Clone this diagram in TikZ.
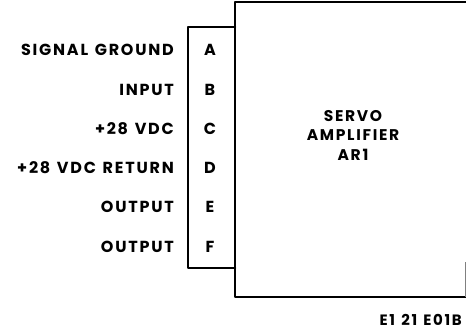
\documentclass[tikz,border=0pt]{standalone}
\usepackage{fontspec}
\setmainfont{Poppins}[LetterSpace=11,WordSpace=1.3]
\begin{document}
\begin{tikzpicture}[x=1pt,y=-1pt,
  lbl/.style={anchor=east,inner sep=0pt,font=\fontsize{16}{17}\selectfont\bfseries},
  pin/.style={inner sep=0pt,font=\fontsize{16}{17}\selectfont\bfseries},
  title/.style={inner sep=0pt,align=center,font=\fontsize{15.5}{19.5}\selectfont\bfseries},
  edge/.style={line width=2.6pt,line cap=round,line join=round}]
\useasboundingbox (0,0) rectangle (466,329);
\clip (0,0) rectangle (466,329);
% amplifier box
\coordinate (bTL) at (235,2);
\coordinate (bTR) at (468,2);
\coordinate (bBL) at (235,297);
\coordinate (bBR) at (468,297);
\draw[edge] (bTR) -- (bTL) -- (bBL) -- (bBR);
\draw[line width=0.5pt,gray] (465,262) -- (465,297);
% connector
\coordinate (cTL) at (188,27);
\coordinate (cTR) at (235,27);
\coordinate (cBL) at (188,268);
\coordinate (cBR) at (235,268);
\draw[edge] (cTR) -- (cTL) -- (cBL) -- (cBR);
% labels
\foreach \n/\y/\t/\p in {a/50/SIGNAL GROUND/A, b/90/INPUT/B, c/129/+28 VDC/C, d/168/+28 VDC RETURN/D, e/207/OUTPUT/E, f/247/OUTPUT/F}{
  \node[lbl] (l\n) at (174,\y) {\t};
  \node[pin] (p\n) at (210,\y) {\p};
}
\node[title] (amp) at (353,135) {SERVO\\AMPLIFIER\\AR1};
\node[anchor=base east,inner sep=0pt,font=\fontsize{15}{17}\selectfont\bfseries] (fig) at (462,325) {E1 21 E01B};
\end{tikzpicture}
\end{document}
